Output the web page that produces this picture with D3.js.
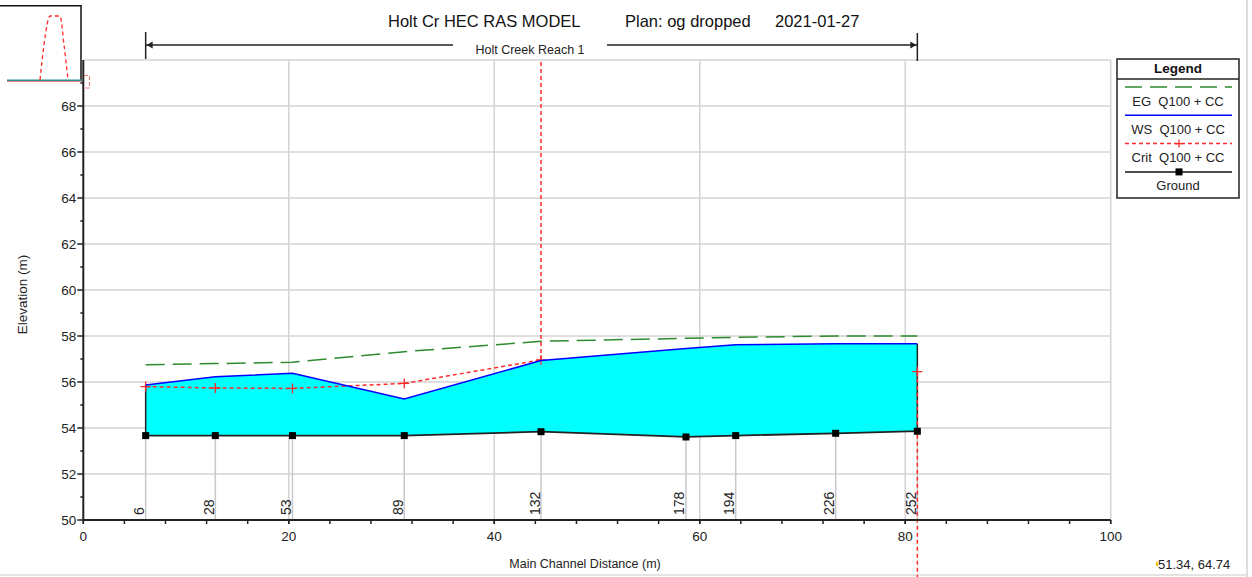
<!DOCTYPE html>
<html lang="en">
  <head>
    <meta charset="UTF-8" />
    <title>Holt Cr HEC RAS MODEL - profile</title>
    <script src="https://d3js.org/d3.v7.min.js"></script>
    <style>
      body {
        margin: 0;
        background-color: #fff;
        font-family: "Liberation Sans", Arial, sans-serif;
      }
      .grid line {
        stroke: #d3d3d3;
        stroke-width: 1.5;
      }
      .tick-label {
        font-size: 13.5px;
        fill: #222;
      }
    </style>
  </head>
  <body>
    <div class="chart"></div>

    <script>
      // river stations and profile values (m)
      const stations = ["6", "28", "53", "89", "132", "178", "194", "226", "252"];
      const distance = [6.07, 12.85, 20.36, 31.24, 44.55, 58.66, 63.5, 73.23, 81.18];
      const ground = [53.67, 53.67, 53.67, 53.67, 53.84, 53.61, 53.67, 53.77, 53.86];
      const wsElev = [55.87, 56.23, 56.38, 55.26, 56.93, 57.46, 57.62, 57.66, 57.66];
      const egElev = [56.75, 56.8, 56.86, 57.32, 57.77, 57.9, 57.94, 58.0, 58.0];
      const critElev = [55.8, 55.74, 55.72, 55.94, 56.96, null, null, null, 56.45];
      // crit spikes where HEC-RAS draws the crit line off the chart
      const critUp = ["132"];
      const critDown = ["252"];

      const yTicks = [50, 52, 54, 56, 58, 60, 62, 64, 66, 68];
      const xTicks = [0, 20, 40, 60, 80, 100];
      const legendItems = ["EG  Q100 + CC", "WS  Q100 + CC", "Crit  Q100 + CC", "Ground"];

      // small thumbnail of another window in the corner
      const thumbX = [0, 4, 10, 20, 24, 28];
      const thumbY = [0, 0.55, 1, 1, 0.55, 0];

      const W = 1252, H = 577;
      const svg = d3
        .select(".chart")
        .append("svg")
        .attr("width", W)
        .attr("height", H);

      const x = d3.scaleLinear().domain([0, 100]).range([83.3, 1110.7]);
      const y = d3.scaleLinear().domain([50, 70]).range([520, 60]);

      const rows = stations.map((s, i) => ({
        rs: s,
        d: distance[i],
        g: ground[i],
        ws: wsElev[i],
        eg: egElev[i],
        crit: critElev[i],
      }));

      // window frame
      svg.append("line").attr("x1", 1247).attr("x2", 1247).attr("y1", 0).attr("y2", H)
        .attr("stroke", "#ddd").attr("stroke-width", 2);
      svg.append("line").attr("x1", 0).attr("x2", 1247).attr("y1", 575).attr("y2", 575)
        .attr("stroke", "#e4e4e4").attr("stroke-width", 2);

      // grid
      svg
        .append("g")
        .attr("class", "grid")
        .selectAll("line.h")
        .data(yTicks.slice(1).concat([70]))
        .enter()
        .append("line")
        .attr("x1", x(0))
        .attr("x2", x(100))
        .attr("y1", (d) => y(d))
        .attr("y2", (d) => y(d));
      svg
        .append("g")
        .attr("class", "grid")
        .selectAll("line.v")
        .data(xTicks.slice(1))
        .enter()
        .append("line")
        .attr("x1", (d) => x(d))
        .attr("x2", (d) => x(d))
        .attr("y1", y(70))
        .attr("y2", y(50));

      // station lines down to the axis
      svg
        .append("g")
        .selectAll("line")
        .data(rows)
        .enter()
        .append("line")
        .attr("x1", (d) => x(d.d))
        .attr("x2", (d) => x(d.d))
        .attr("y1", (d) => y(d.g))
        .attr("y2", y(50))
        .attr("stroke", "#c8c8c8")
        .attr("stroke-width", 1.5);

      // water fill between ground and WS
      const area = d3
        .area()
        .x((d) => x(d.d))
        .y0((d) => y(d.g))
        .y1((d) => y(d.ws));
      svg.append("path").attr("d", area(rows)).attr("fill", "#00ffff");

      const first = rows[0], last = rows[rows.length - 1];
      svg
        .append("g")
        .selectAll("line")
        .data([first, last])
        .enter()
        .append("line")
        .attr("x1", (d) => x(d.d))
        .attr("x2", (d) => x(d.d))
        .attr("y1", (d) => y(d.g))
        .attr("y2", (d) => y(d.ws))
        .attr("stroke", "#222")
        .attr("stroke-width", 1.5);

      // EG
      const lineOf = (key) =>
        d3
          .line()
          .defined((d) => d[key] != null)
          .x((d) => x(d.d))
          .y((d) => y(d[key]));
      svg
        .append("path")
        .attr("d", lineOf("eg")(rows))
        .attr("fill", "none")
        .attr("stroke", "#2e8b2e")
        .attr("stroke-width", 1.5)
        .attr("stroke-dasharray", "19,8");

      // Crit
      const critColor = "#ff2a2a";
      svg
        .append("path")
        .attr("d", lineOf("crit")(rows))
        .attr("fill", "none")
        .attr("stroke", critColor)
        .attr("stroke-width", 1.5)
        .attr("stroke-dasharray", "4,3");
      const spikes = rows
        .filter((d) => critUp.includes(d.rs))
        .map((d) => ({ d: d.d, a: d.crit, b: 70 }))
        .concat(
          rows
            .filter((d) => critDown.includes(d.rs))
            .map((d) => ({ d: d.d, a: d.crit, b: y.invert(H) }))
        );
      svg
        .append("g")
        .selectAll("line")
        .data(spikes)
        .enter()
        .append("line")
        .attr("x1", (d) => x(d.d))
        .attr("x2", (d) => x(d.d))
        .attr("y1", (d) => y(d.a))
        .attr("y2", (d) => y(d.b))
        .attr("stroke", critColor)
        .attr("stroke-width", 1.5)
        .attr("stroke-dasharray", "4,3");
      svg
        .append("g")
        .selectAll("path")
        .data(rows.filter((d) => d.crit != null))
        .enter()
        .append("path")
        .attr("d", (d) => {
          const cx = x(d.d), cy = y(d.crit);
          return `M${cx - 5},${cy}H${cx + 5}M${cx},${cy - 5}V${cy + 5}`;
        })
        .attr("stroke", critColor)
        .attr("stroke-width", 1.3);

      // WS
      svg
        .append("path")
        .attr("d", lineOf("ws")(rows))
        .attr("fill", "none")
        .attr("stroke", "#0000ff")
        .attr("stroke-width", 1.5);

      // Ground
      svg
        .append("path")
        .attr("d", lineOf("g")(rows))
        .attr("fill", "none")
        .attr("stroke", "#222")
        .attr("stroke-width", 1.8);
      svg
        .append("g")
        .selectAll("rect")
        .data(rows)
        .enter()
        .append("rect")
        .attr("x", (d) => x(d.d) - 3.5)
        .attr("y", (d) => y(d.g) - 3.5)
        .attr("width", 7)
        .attr("height", 7)
        .attr("fill", "#000");

      // station labels
      svg
        .append("g")
        .selectAll("text")
        .data(rows)
        .enter()
        .append("text")
        .attr("transform", (d) => `translate(${x(d.d) - 1.5},${y(50) - 5}) rotate(-90)`)
        .attr("class", "tick-label")
        .style("font-size", "14px")
        .text((d) => d.rs);

      // axes
      const yAxis = svg.append("g");
      yAxis
        .append("line")
        .attr("x1", x(0)).attr("x2", x(0))
        .attr("y1", y(70)).attr("y2", y(50))
        .attr("stroke", "#222").attr("stroke-width", 2);
      yAxis
        .selectAll("line.tk")
        .data(d3.range(50, 70, 1))
        .enter()
        .append("line")
        .attr("x1", (d) => x(0) - (d % 2 === 0 ? 6 : 3))
        .attr("x2", x(0))
        .attr("y1", (d) => y(d))
        .attr("y2", (d) => y(d))
        .attr("stroke", "#222")
        .attr("stroke-width", 1.5);
      yAxis
        .selectAll("text")
        .data(yTicks)
        .enter()
        .append("text")
        .attr("class", "tick-label")
        .attr("x", x(0) - 7)
        .attr("y", (d) => y(d) + 5)
        .attr("text-anchor", "end")
        .text((d) => d);

      const xAxis = svg.append("g");
      xAxis
        .append("line")
        .attr("x1", x(0)).attr("x2", x(100))
        .attr("y1", y(50)).attr("y2", y(50))
        .attr("stroke", "#222").attr("stroke-width", 2);
      xAxis
        .selectAll("line.tk")
        .data(d3.range(0, 101, 4))
        .enter()
        .append("line")
        .attr("x1", (d) => x(d))
        .attr("x2", (d) => x(d))
        .attr("y1", y(50))
        .attr("y2", y(50) + 4)
        .attr("stroke", "#222")
        .attr("stroke-width", 1.5);
      xAxis
        .selectAll("line.mj")
        .data(xTicks)
        .enter()
        .append("line")
        .attr("x1", (d) => x(d))
        .attr("x2", (d) => x(d))
        .attr("y1", y(50))
        .attr("y2", y(50) + 4)
        .attr("stroke", "#222")
        .attr("stroke-width", 1.5);
      xAxis
        .selectAll("text")
        .data(xTicks)
        .enter()
        .append("text")
        .attr("class", "tick-label")
        .attr("x", (d) => x(d))
        .attr("y", y(50) + 21)
        .attr("text-anchor", "middle")
        .text((d) => d);

      svg
        .append("text")
        .attr("transform", `translate(27,${y(59.8)}) rotate(-90)`)
        .attr("text-anchor", "middle")
        .style("font-size", "13.5px")
        .attr("fill", "#222")
        .text("Elevation (m)");
      svg
        .append("text")
        .attr("x", 585)
        .attr("y", 568)
        .attr("text-anchor", "middle")
        .style("font-size", "12.5px")
        .attr("fill", "#222")
        .text("Main Channel Distance (m)");

      // title
      const titleParts = [
        { t: "Holt Cr HEC RAS MODEL", x: 388 },
        { t: "Plan: og dropped", x: 625 },
        { t: "2021-01-27", x: 775 },
      ];
      svg
        .append("g")
        .selectAll("text")
        .data(titleParts)
        .enter()
        .append("text")
        .attr("x", (d) => d.x)
        .attr("y", 27)
        .style("font-size", "16.5px")
        .attr("fill", "#111")
        .text((d) => d.t);

      // reach bracket
      const reachY = 45;
      const rx0 = x(first.d), rx1 = x(last.d);
      const reach = svg.append("g").attr("stroke", "#222").attr("stroke-width", 1.5);
      reach.append("line").attr("x1", rx0).attr("x2", rx0).attr("y1", 32).attr("y2", 59);
      reach.append("line").attr("x1", rx1).attr("x2", rx1).attr("y1", 33).attr("y2", 61);
      reach.append("line").attr("x1", rx0).attr("x2", 453).attr("y1", reachY).attr("y2", reachY);
      reach.append("line").attr("x1", 607).attr("x2", rx1).attr("y1", reachY).attr("y2", reachY);
      svg
        .append("path")
        .attr("d", `M${rx0 + 1},${reachY}l6,-3.5v7z M${rx1 - 1},${reachY}l-6,-3.5v7z`)
        .attr("fill", "#222");
      svg
        .append("text")
        .attr("x", (453 + 607) / 2)
        .attr("y", 54)
        .attr("text-anchor", "middle")
        .style("font-size", "12.5px")
        .attr("fill", "#222")
        .text("Holt Creek Reach 1");

      // legend
      const lg = svg.append("g").attr("transform", "translate(1117,59)");
      lg.append("rect").attr("width", 122).attr("height", 139)
        .attr("fill", "#fff").attr("stroke", "#222").attr("stroke-width", 1.5);
      lg.append("line").attr("x1", 0).attr("x2", 122).attr("y1", 20).attr("y2", 20)
        .attr("stroke", "#222").attr("stroke-width", 1.5);
      lg.append("text").attr("x", 61).attr("y", 14).attr("text-anchor", "middle")
        .style("font-size", "13.5px").style("font-weight", "bold").attr("fill", "#111")
        .text("Legend");
      const lgStyles = [
        { c: "#2e8b2e", dash: "17,8" },
        { c: "#0000ff", dash: null },
        { c: critColor, dash: "4,3" },
        { c: "#111", dash: null },
      ];
      const items = lg
        .selectAll("g.item")
        .data(legendItems)
        .enter()
        .append("g")
        .attr("transform", (d, i) => `translate(0,${28 + i * 28.3})`);
      items
        .append("line")
        .attr("x1", 8)
        .attr("x2", 115)
        .attr("stroke", (d, i) => lgStyles[i].c)
        .attr("stroke-width", 1.5)
        .attr("stroke-dasharray", (d, i) => lgStyles[i].dash);
      items
        .append("text")
        .attr("x", 61)
        .attr("y", 18.5)
        .attr("text-anchor", "middle")
        .style("font-size", "13px")
        .style("white-space", "pre")
        .attr("fill", "#222")
        .text((d) => d);
      items
        .filter((d, i) => i === 2)
        .append("path")
        .attr("d", "M58,0H66M62,-4V4")
        .attr("stroke", critColor)
        .attr("stroke-width", 1.3);
      items
        .filter((d, i) => i === 3)
        .append("rect")
        .attr("x", 58.5)
        .attr("y", -3.5)
        .attr("width", 7)
        .attr("height", 7)
        .attr("fill", "#000");

      // cursor coordinates
      svg.append("rect").attr("x", 1156).attr("y", 562).attr("width", 2).attr("height", 4).attr("fill", "#f0c000");
      svg
        .append("text")
        .attr("x", 1158)
        .attr("y", 569)
        .style("font-size", "13px")
        .attr("fill", "#222")
        .text("51.34, 64.74");

      // corner thumbnail
      const tx = d3.scaleLinear().domain([0, 28]).range([40, 68]);
      const ty = d3.scaleLinear().domain([0, 1]).range([80, 16]);
      svg.append("path").attr("d", "M0,5.7H81V81").attr("fill", "none")
        .attr("stroke", "#111").attr("stroke-width", 1.5);
      svg.append("line").attr("x1", 7).attr("x2", 82).attr("y1", 81.5).attr("y2", 81.5)
        .attr("stroke", "#f08080").attr("stroke-width", 1);
      svg.append("line").attr("x1", 7).attr("x2", 82).attr("y1", 80.3).attr("y2", 80.3)
        .attr("stroke", "#2a9090").attr("stroke-width", 1.5);
      svg
        .append("path")
        .attr("d", d3.line().x((d, i) => tx(d)).y((d, i) => ty(thumbY[i])).curve(d3.curveMonotoneX)(thumbX))
        .attr("fill", "none")
        .attr("stroke", critColor)
        .attr("stroke-width", 1.3)
        .attr("stroke-dasharray", "4,3");
      svg.append("path").attr("d", "M84,75.5H89.5V88H84").attr("fill", "none")
        .attr("stroke", "#f07070").attr("stroke-width", 1).attr("stroke-dasharray", "4,2");
    </script>
  </body>
</html>
